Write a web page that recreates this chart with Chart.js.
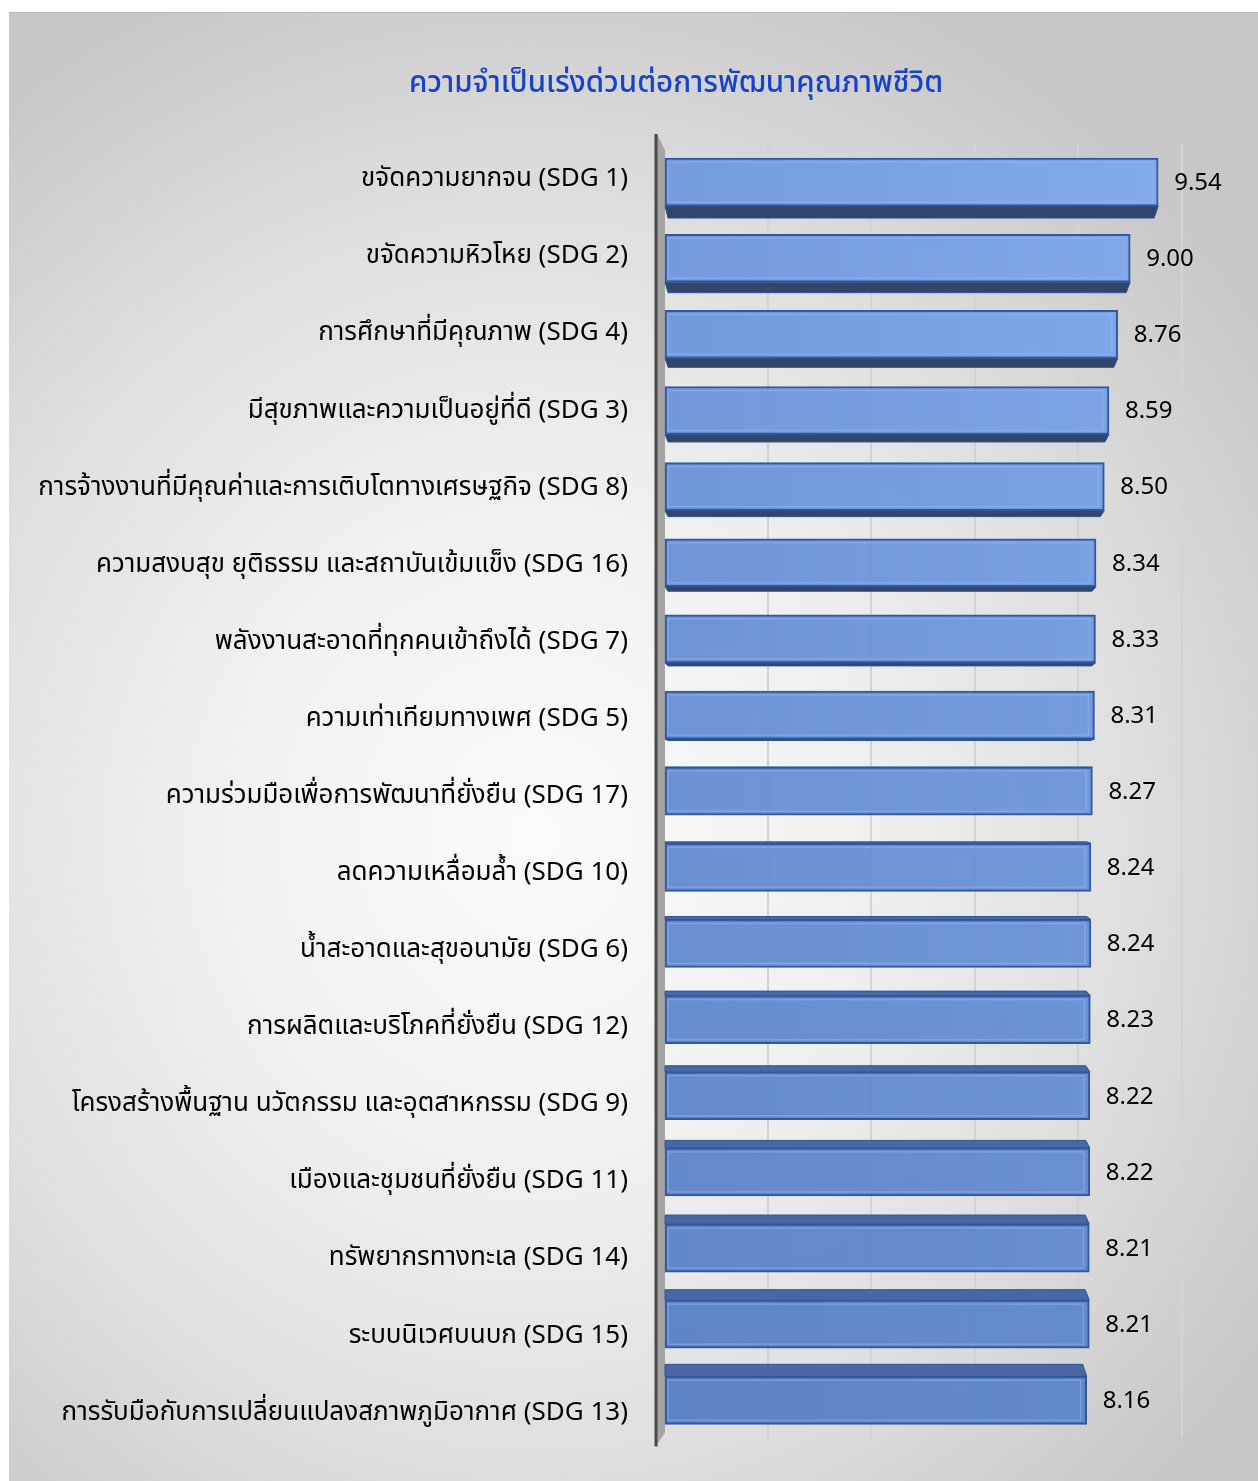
<!DOCTYPE html>
<html>
<head>
<meta charset="utf-8">
<script src="https://cdn.jsdelivr.net/npm/chart.js@4.4.1/dist/chart.umd.min.js"></script>
<style>
  html, body { margin: 0; padding: 0; background: #fff; }
  #panel {
    position: absolute; left: 9px; top: 12px; width: 1249px; height: 1469px;
    border-top: 1px solid #b9b9b9;
    background: radial-gradient(ellipse 70% 62% at 42% 56%, #fbfbfb 0%, #f1f1f1 35%, #dedede 70%, #c8c8c8 100%);
  }
  #panel canvas { display: block; position: absolute; left: 0; top: 0; }
  #title {
    position: absolute; left: 0; top: 52px; width: 1334px; text-align: center;
    font-family: 'Noto Sans Thai', Tahoma, 'Noto Sans', sans-serif;
    font-size: 29.5px; line-height: 36px; font-weight: 500; color: #1742cc;
  }
</style>
</head>
<body>
<div id="panel">
  <canvas id="sdgChart" width="1249" height="1469"></canvas>
  <div id="title"></div>
</div>
<script>
// ข้อมูล
const chartTitle = 'ความจำเป็นเร่งด่วนต่อการพัฒนาคุณภาพชีวิต';

const sdgLabels = [
  'ขจัดความยากจน (SDG 1)',
  'ขจัดความหิวโหย (SDG 2)',
  'การศึกษาที่มีคุณภาพ (SDG 4)',
  'มีสุขภาพและความเป็นอยู่ที่ดี (SDG 3)',
  'การจ้างงานที่มีคุณค่าและการเติบโตทางเศรษฐกิจ (SDG 8)',
  'ความสงบสุข ยุติธรรม และสถาบันเข้มแข็ง (SDG 16)',
  'พลังงานสะอาดที่ทุกคนเข้าถึงได้ (SDG 7)',
  'ความเท่าเทียมทางเพศ (SDG 5)',
  'ความร่วมมือเพื่อการพัฒนาที่ยั่งยืน (SDG 17)',
  'ลดความเหลื่อมล้ำ (SDG 10)',
  'น้ำสะอาดและสุขอนามัย (SDG 6)',
  'การผลิตและบริโภคที่ยั่งยืน (SDG 12)',
  'โครงสร้างพื้นฐาน นวัตกรรม และอุตสาหกรรม (SDG 9)',
  'เมืองและชุมชนที่ยั่งยืน (SDG 11)',
  'ทรัพยากรทางทะเล (SDG 14)',
  'ระบบนิเวศบนบก (SDG 15)',
  'การรับมือกับการเปลี่ยนแปลงสภาพภูมิอากาศ (SDG 13)'
];

const urgencyScores = [9.54, 9.00, 8.76, 8.59, 8.50, 8.34, 8.33, 8.31, 8.27, 8.24, 8.24, 8.23, 8.22, 8.22, 8.21, 8.21, 8.16];

const axisMin = 0;
const axisMax = 10;
const axisStep = 2;

// ช่วงของแกนป้ายชื่อ
const labelAxisMin = -0.481;
const labelAxisMax = 16.312;

const fontFamily = "'Noto Sans Thai', Tahoma, 'Noto Sans', 'DejaVu Sans', sans-serif";

document.getElementById('title').textContent = chartTitle;

// สีแท่ง: บนสว่าง ล่างเข้มขึ้น
function mix(a, b, t) {
  return a.map((v, k) => Math.round(v + (b[k] - v) * t));
}
function rgb(c, a) { return 'rgba(' + c[0] + ',' + c[1] + ',' + c[2] + ',' + a + ')'; }

function barFill(context) {
  const chart = context.chart;
  const area = chart.chartArea;
  if (!area) return '#6a93d8';
  const n = sdgLabels.length;
  const t = context.dataIndex / (n - 1);
  const leftCol = mix([108, 150, 222], [84, 124, 194], t);
  const rightCol = mix([126, 168, 238], [90, 132, 202], t);
  const g = chart.ctx.createLinearGradient(area.left, 0, area.right, 0);
  g.addColorStop(0, rgb(leftCol, 0.93));
  g.addColorStop(1, rgb(rightCol, 0.93));
  return g;
}

// ความลึกของด้าน 3 มิติ (+ ด้านล่าง, - ด้านบน)
function depthOf(i, n) {
  return 12 - 24 * i / (n - 1);
}

const bar3d = {
  id: 'bar3d',
  beforeDatasetsDraw(chart) {
    const ctx = chart.ctx;
    const a = chart.chartArea;
    const lx = a.left - 8;
    ctx.save();
    // ผนังด้านซ้าย
    ctx.fillStyle = '#a5a5a5';
    ctx.beginPath();
    ctx.moveTo(lx + 1, a.top - 10);
    ctx.lineTo(lx + 9, a.top + 6);
    ctx.lineTo(lx + 9, a.bottom - 6);
    ctx.lineTo(lx + 1, a.bottom + 6);
    ctx.closePath();
    ctx.fill();
    // เส้นแกน
    ctx.strokeStyle = '#4a4a4a';
    ctx.lineWidth = 3;
    ctx.beginPath();
    ctx.moveTo(lx, a.top - 10);
    ctx.lineTo(lx, a.bottom + 8);
    ctx.stroke();
    ctx.restore();
  },
  afterDatasetsDraw(chart) {
    const ctx = chart.ctx;
    const meta = chart.getDatasetMeta(0);
    const n = meta.data.length;
    ctx.save();
    meta.data.forEach((bar, i) => {
      const d = depthOf(i, n);
      const x0 = bar.base, x1 = bar.x;
      const top = bar.y - bar.height / 2;
      const bottom = bar.y + bar.height / 2;
      ctx.beginPath();
      if (d > 0) {
        ctx.moveTo(x0, bottom);
        ctx.lineTo(x1, bottom);
        ctx.lineTo(x1 - 4, bottom + d);
        ctx.lineTo(x0 + 3, bottom + d);
        ctx.fillStyle = '#33456a';
      } else {
        ctx.moveTo(x0, top);
        ctx.lineTo(x1, top);
        ctx.lineTo(x1 - 4, top + d);
        ctx.lineTo(x0, top + d);
        ctx.fillStyle = '#4867a4';
      }
      ctx.closePath();
      ctx.fill();
      ctx.strokeStyle = '#2f5597';
      ctx.lineWidth = 1;
      ctx.stroke();

      // ขอบเอียงด้านใน
      ctx.strokeStyle = 'rgba(150,185,245,0.45)';
      ctx.lineWidth = 1.5;
      ctx.strokeRect(x0 + 3, top + 4, x1 - x0 - 9, bar.height - 8);

      // ป้ายค่า
      ctx.fillStyle = '#000';
      ctx.font = '24px ' + fontFamily;
      ctx.textAlign = 'left';
      ctx.textBaseline = 'middle';
      ctx.fillText(urgencyScores[i].toFixed(2), x1 + 16, bar.y + 3);
    });
    ctx.restore();
  }
};

const ctx = document.getElementById('sdgChart').getContext('2d');
new Chart(ctx, {
  type: 'bar',
  data: {
    labels: sdgLabels,
    datasets: [{
      data: urgencyScores,
      yAxisID: 'y',
      backgroundColor: barFill,
      borderColor: '#3358a0',
      borderWidth: 2,
      borderSkipped: false,
      barThickness: 48
    }]
  },
  options: {
    indexAxis: 'y',
    responsive: false,
    animation: false,
    layout: { padding: { left: 0, right: 76, top: 131, bottom: 39 } },
    plugins: {
      legend: { display: false },
      tooltip: { enabled: false },
      title: { display: false }
    },
    scales: {
      x: {
        min: axisMin,
        max: axisMax,
        afterFit(scale) { scale.height = 0; },
        ticks: { display: false, stepSize: axisStep },
        border: { display: false },
        grid: {
          drawTicks: false,
          lineWidth: 2,
          color: c => (c.tick && c.tick.value === axisMin) ? 'rgba(0,0,0,0)' : '#d3d3d3'
        }
      },
      y: {
        display: false
      },
      // แกนป้ายชื่อ (ระยะห่างป้ายต่างจากแท่งเล็กน้อยตามภาพ 3 มิติ)
      yl: {
        type: 'linear',
        position: 'left',
        reverse: true,
        offset: false,
        min: labelAxisMin,
        max: labelAxisMax,
        afterBuildTicks(scale) {
          scale.ticks = sdgLabels.map((_, i) => ({ value: i }));
          scale.min = labelAxisMin;
          scale.max = labelAxisMax;
        },
        afterFit(scale) { scale.width = 655; },
        border: { display: false },
        grid: { display: false, offset: false },
        ticks: {
          color: '#000',
          padding: 28,
          autoSkip: false,
          font: { family: fontFamily, size: 26 },
          callback: v => sdgLabels[v]
        }
      }
    }
  },
  plugins: [bar3d]
});
</script>
</body>
</html>
